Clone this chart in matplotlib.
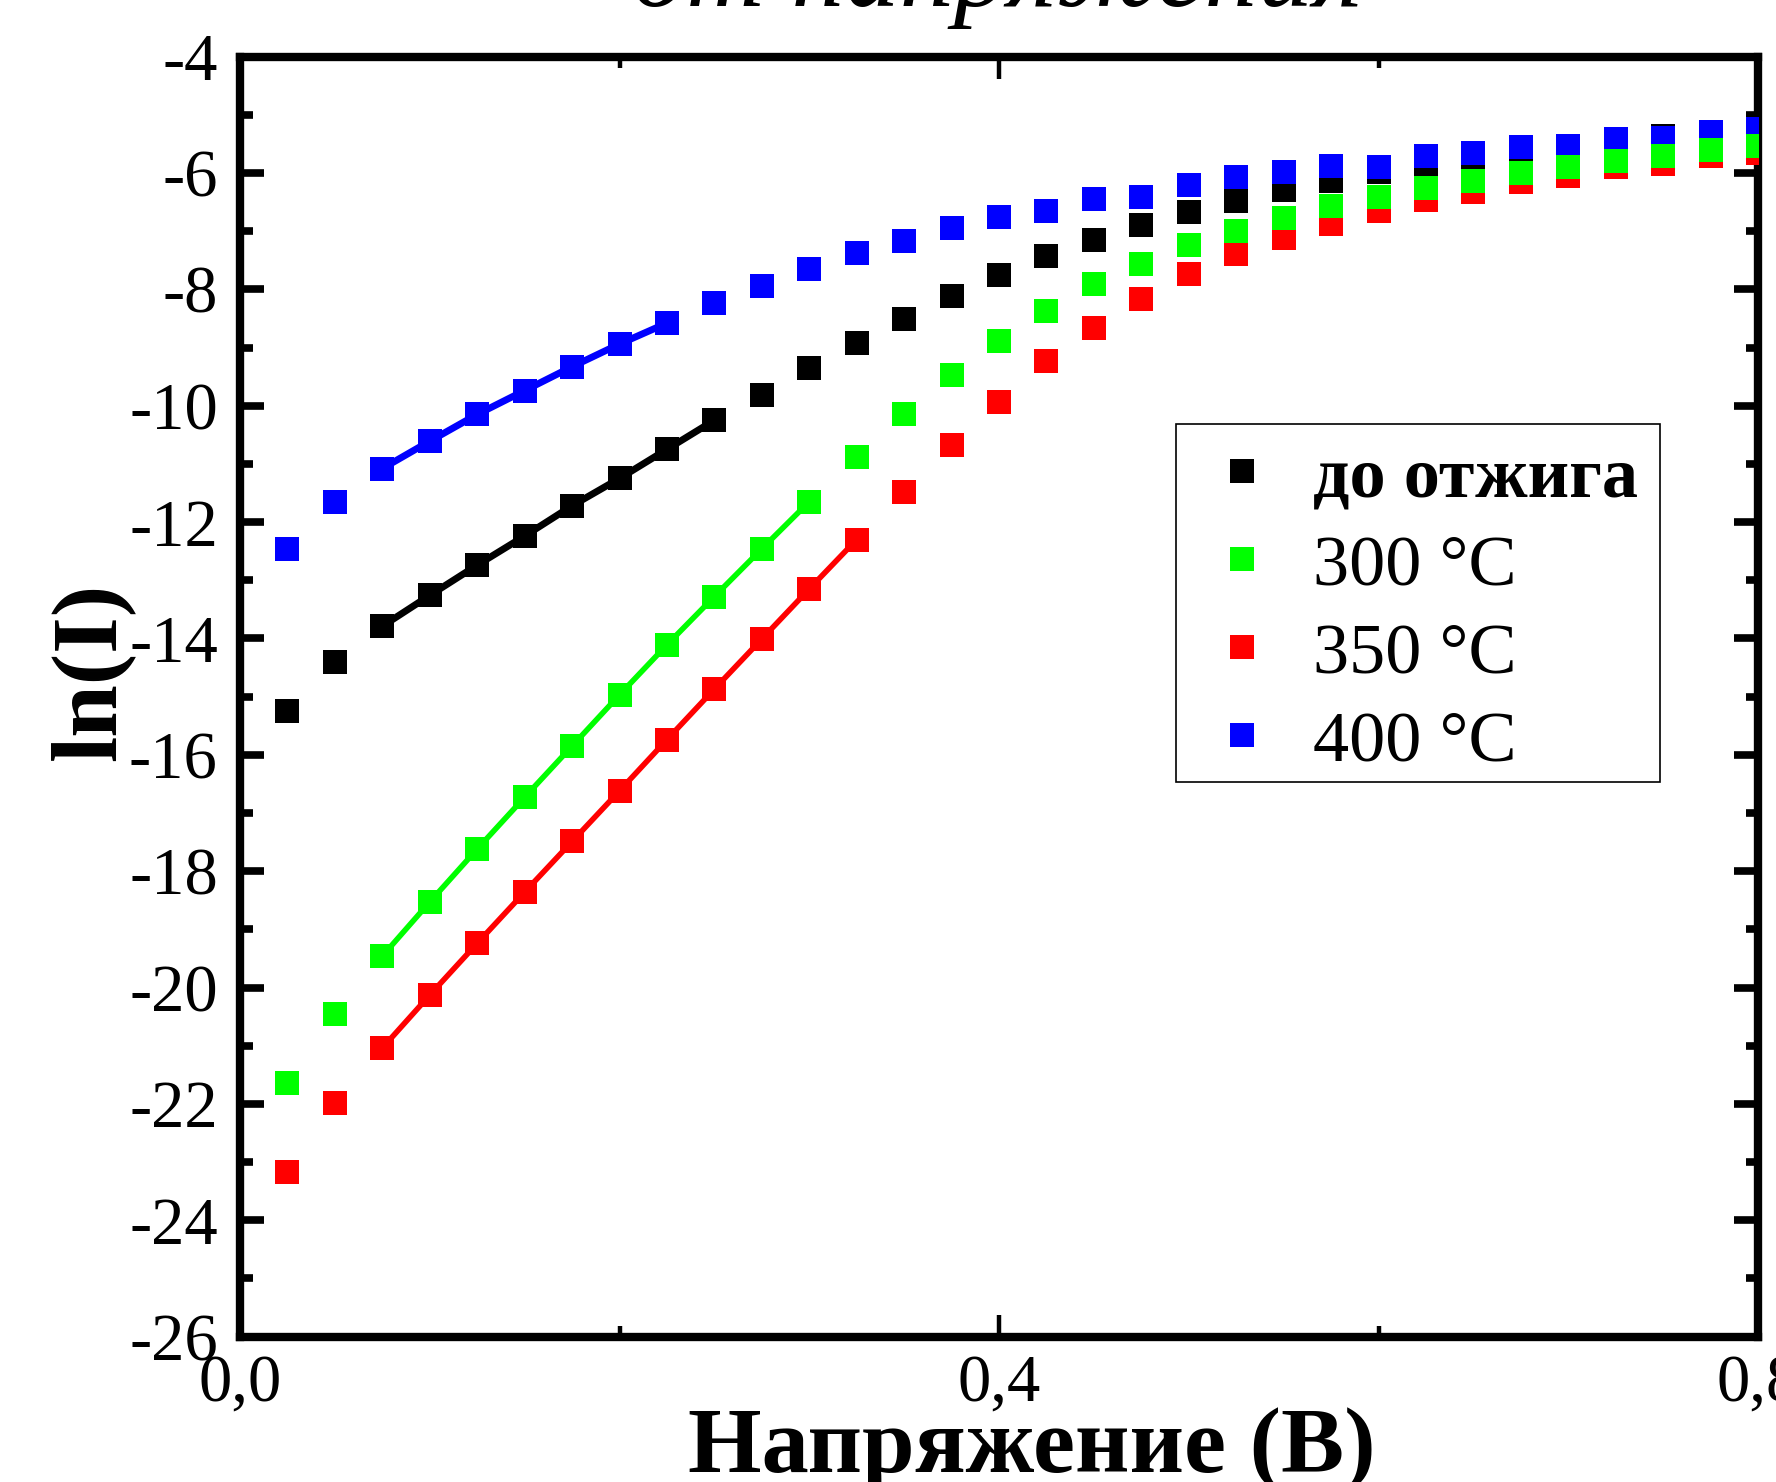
import matplotlib
matplotlib.use("Agg")
import matplotlib.pyplot as plt
from matplotlib.ticker import FixedLocator, MultipleLocator, FuncFormatter
from matplotlib.lines import Line2D
from matplotlib.patches import Rectangle

# ---------------- data ----------------
voltage = [0.025, 0.05, 0.075, 0.1, 0.125, 0.15, 0.175, 0.2, 0.225, 0.25,
           0.275, 0.3, 0.325, 0.35, 0.375, 0.4, 0.425, 0.45, 0.475, 0.5,
           0.525, 0.55, 0.575, 0.6, 0.625, 0.65, 0.675, 0.7, 0.725, 0.75,
           0.775, 0.8]

ln_before = [-15.24, -14.41, -13.79, -13.26, -12.74, -12.24, -11.72, -11.25,
             -10.75, -10.25, -9.81, -9.35, -8.92, -8.51, -8.12, -7.75, -7.43,
             -7.15, -6.90, -6.67, -6.48, -6.29, -6.13, -5.99, -5.85, -5.73,
             -5.59, -5.55, -5.45, -5.36, -5.30, -5.26]
ln_300 = [-21.64, -20.45, -19.46, -18.53, -17.62, -16.73, -15.85, -14.97,
          -14.11, -13.28, -12.46, -11.65, -10.89, -10.15, -9.47, -8.88, -8.37,
          -7.91, -7.56, -7.24, -7.00, -6.78, -6.56, -6.42, -6.25, -6.13,
          -6.00, -5.90, -5.79, -5.70, -5.61, -5.53]
ln_350 = [-23.17, -21.99, -21.04, -20.13, -19.24, -18.36, -17.49, -16.62,
          -15.74, -14.87, -14.01, -13.15, -12.30, -11.48, -10.68, -9.93, -9.24,
          -8.66, -8.16, -7.74, -7.40, -7.11, -6.87, -6.66, -6.47, -6.33,
          -6.15, -6.06, -5.90, -5.84, -5.70, -5.66]
ln_400 = [-12.46, -11.65, -11.08, -10.61, -10.15, -9.74, -9.33, -8.94,
          -8.58, -8.24, -7.95, -7.65, -7.38, -7.17, -6.95, -6.75, -6.65,
          -6.45, -6.41, -6.21, -6.07, -5.98, -5.88, -5.89, -5.71, -5.66,
          -5.55, -5.53, -5.41, -5.40, -5.29, -5.25]

labels = ["до отжига", "300 °C", "350 °C", "400 °C"]
colors = ["#000000", "#00FF00", "#FF0000", "#0000FF"]
# voltage range of the linear segment drawn for each series
fit_ranges = [(0.075, 0.25), (0.075, 0.30), (0.075, 0.325), (0.075, 0.225)]

x_ticks = [0.0, 0.4, 0.8]
x_minor = [0.2, 0.6]
y_ticks = [-4, -6, -8, -10, -12, -14, -16, -18, -20, -22, -24, -26]

title_text = "от напряжения"
xlabel_text = "Напряжение (В)"
ylabel_text = "ln(I)"

# ---------------- figure ----------------
SERIF = ["Liberation Serif", "DejaVu Serif"]
plt.rcParams["font.family"] = SERIF

W, H, DPI = 1776, 1482, 100
fig = plt.figure(figsize=(W / DPI, H / DPI), dpi=DPI)
ax = fig.add_axes([240 / W, 1 - 1336.6 / H, 1518 / W, 1280 / H])

series = [ln_before, ln_300, ln_350, ln_400]
zorders = [3, 6, 4, 5]
for yv, col, (a, b), z in zip(series, colors, fit_ranges, zorders):
    xs = [v for v in voltage if a - 1e-9 <= v <= b + 1e-9]
    ys = [y for v, y in zip(voltage, yv) if a - 1e-9 <= v <= b + 1e-9]
    lw = 5.0 if col in ("#000000", "#0000FF") else 4.0
    ax.plot(xs, ys, color=col, lw=lw, zorder=z, solid_capstyle="butt")
    ax.plot(voltage, yv, linestyle="none", marker="s", markersize=17,
            markeredgewidth=0, color=col, zorder=z + 0.5)

ax.set_xlim(0.0, 0.8)
ax.set_ylim(-26, -4)

ax.xaxis.set_major_locator(FixedLocator(x_ticks))
ax.xaxis.set_minor_locator(FixedLocator(x_minor))
ax.yaxis.set_major_locator(FixedLocator(y_ticks))
ax.yaxis.set_minor_locator(MultipleLocator(1))
ax.xaxis.set_major_formatter(FuncFormatter(lambda v, p: f"{v:.1f}".replace(".", ",")))
ax.yaxis.set_major_formatter(FuncFormatter(lambda v, p: f"{int(round(v))}"))

for s in ax.spines.values():
    s.set_linewidth(6)
ax.tick_params(axis="x", which="both", direction="in", top=True, bottom=True,
               labelsize=48, pad=12, width=3.2)
ax.tick_params(axis="x", which="major", length=16)
ax.tick_params(axis="x", which="minor", length=8)
ax.tick_params(axis="y", which="both", direction="in", left=True, right=True,
               labelsize=48, pad=16, width=5.5)
ax.tick_params(axis="y", which="major", length=17)
ax.tick_params(axis="y", which="minor", length=9)

ax.set_xlabel(xlabel_text, fontsize=68, fontweight="bold")
ax.xaxis.label.set_va("baseline")
ax.xaxis.set_label_coords((1032 - 240) / 1518, (1336.6 - 1472) / 1280)
ax.set_ylabel(ylabel_text, fontsize=68, fontweight="bold")
ax.yaxis.label.set_va("center")
ax.yaxis.set_label_coords((92 - 240) / 1518, (1336.6 - 672) / 1280)

fig.text(997 / W, 1 - 6 / H, title_text, fontsize=78, style="italic",
         ha="center", va="baseline")

# legend: entries without frame, frame drawn as a rectangle
handles = [Line2D([], [], linestyle="none", marker="s", markersize=17,
                  markeredgewidth=0, color=c) for c in colors]
lx0, lx1 = (1176 - 240) / 1518, (1660 - 240) / 1518
ly1, ly0 = (1336.6 - 424) / 1280, (1336.6 - 782) / 1280
leg = ax.legend(handles, labels, loc="upper left",
                bbox_to_anchor=(lx0 + 0.002, ly1),
                borderaxespad=0, fontsize=52, frameon=False,
                borderpad=0.3, labelspacing=0.31, handlelength=1.15,
                handletextpad=0.4)
leg.set_zorder(11)
leg.get_texts()[0].set_fontweight("bold")
ax.add_patch(Rectangle((lx0, ly0), lx1 - lx0, ly1 - ly0, transform=ax.transAxes,
                       facecolor="white", edgecolor="black", linewidth=1.2,
                       zorder=10))

fig.savefig("out.png", dpi=DPI)
